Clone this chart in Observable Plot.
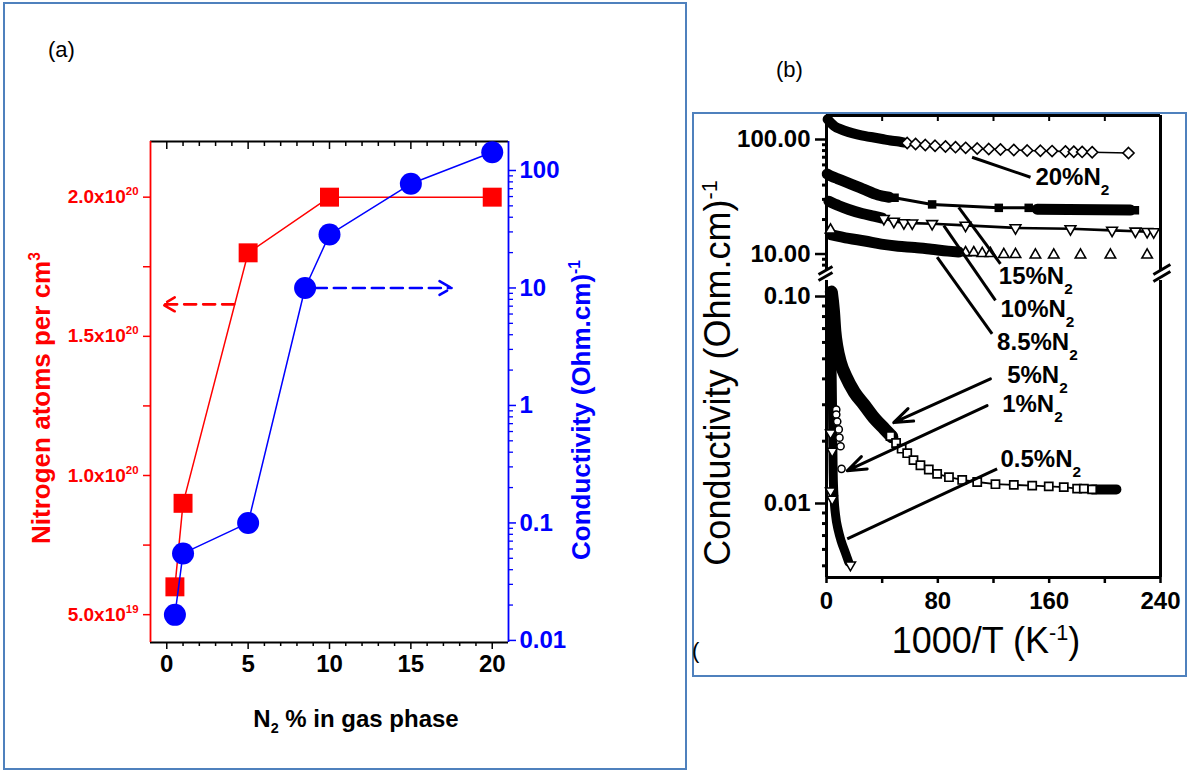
<!DOCTYPE html>
<html>
<head>
<meta charset="utf-8">
<script src="https://cdn.jsdelivr.net/npm/d3@7"></script>
<script src="https://cdn.jsdelivr.net/npm/@observablehq/plot@0.6"></script>
<style>
  html, body { margin: 0; padding: 0; background: #fff; }
  #page { position: relative; width: 1188px; height: 772px; overflow: hidden; background: #fff;
          font-family: "Liberation Sans", Arial, Helvetica, sans-serif; }
  .box { position: absolute; border: 2.5px solid #4f81bd; box-sizing: border-box; }
  .layer { position: absolute; left: 0; top: 0; }
  .t { position: absolute; white-space: nowrap; line-height: 1; }
  .rot { transform: translate(-50%, -50%) rotate(-90deg); }
  .ctr { transform: translate(-50%, -50%); }
  sup, sub { font-size: 0.6em; line-height: 0; }
</style>
</head>
<body>
<div id="page">
  <div class="box" style="left:3px;top:2px;width:684px;height:768px"></div>
  <div class="box" style="left:692px;top:112px;width:495px;height:565px"></div>
</div>
<script>
// ================= DATA =================
// ---- Panel (a)
const n2Pct        = [0.5, 1, 5, 10, 20];
const nAtoms       = [0.6e20, 0.9e20, 1.8e20, 2.0e20, 2.0e20];
const n2PctCond    = [0.5, 1, 5, 8.5, 10, 15, 20];
const condA        = [0.0165, 0.055, 0.1, 10, 28.5, 77, 143];
const xTicksA      = [0, 5, 10, 15, 20];
const xMinorA      = [1, 2, 3, 4, 6, 7, 8, 9, 11, 12, 13, 14, 16, 17, 18, 19];
const nTicksA      = [0.5e20, 1.0e20, 1.5e20, 2.0e20];
const nTickLabelsA = ["5.0x10^{19}", "1.0x10^{20}", "1.5x10^{20}", "2.0x10^{20}"];
const nMinorA      = [0.75e20, 1.25e20, 1.75e20];
const condTicksA   = [0.01, 0.1, 1, 10, 100];
const condLabelsA  = ["0.01", "0.1", "1", "10", "100"];

// ---- Panel (b)
// 20 % N2 (open diamonds)
const s20BandX = [0.8, 3, 6, 10, 16, 22, 28, 34, 40, 46, 52, 56];
const s20BandV = [150, 140, 130, 123, 116, 111, 107, 104, 101, 98, 96, 94];
const s20X = [58, 64, 71, 78, 85.5, 92.7, 100, 108.3, 116.6, 125, 134.6, 144.2, 153.7, 162.1, 171.7, 177.7, 183.7, 190.9, 217];
const s20V = [93.2, 91.4, 89.5, 88.1, 86.9, 85.7, 84.6, 83.4, 82.6, 81.8, 81.0, 80.1, 79.7, 79.2, 78.6, 78.2, 77.9, 77.4, 76.2];
// 15 % N2 (filled squares)
const s15BandX  = [0.5, 4, 7.7, 15, 26, 37, 45];
const s15BandV  = [50, 47.5, 45.6, 42.1, 37.1, 32.8, 31.3];
const s15X      = [48.9, 75.9, 123.8, 145.3, 221.6];
const s15V      = [31.0, 27.1, 25.3, 25.3, 24.1];
const s15DenseX = [151.4, 218.4];
const s15DenseV = [24.6, 24.2];
// 10 % N2 (open down triangles)
const s10BandX = [1.7, 8.9, 16, 25.6, 34, 40];
const s10BandV = [28.9, 26.4, 24.5, 22.6, 21.4, 20.6];
const s10X = [41.2, 48.4, 55.6, 61.6, 75.9, 99.9, 135.8, 175.3, 205.2, 222, 230.4, 235.1];
const s10V = [20.4, 19.3, 18.7, 18.6, 18.4, 17.8, 16.9, 16.6, 16.1, 15.8, 15.7, 15.6];
// 8.5 % N2 (open up triangles)
const s85BandX = [2.9, 16, 27.5, 39.4, 51.4, 63.4, 75.4, 87.3, 95];
const s85BandV = [14.8, 13.7, 13.0, 12.2, 11.7, 11.4, 11.0, 10.6, 10.4];
const s85X = [2.9, 99.9, 105.8, 111.9, 117.8, 127.4, 135.8, 150.1, 163.3, 182.5, 204, 230.4];
const s85V = [16.2, 10.3, 10.3, 10.1, 10.1, 9.9, 9.9, 9.8, 9.8, 9.8, 9.8, 9.8];
// 5 % N2 (open squares)
const s5BandX  = [3.5, 5, 6, 7.5, 10, 14, 20, 27, 35, 42, 47];
const s5BandV  = [0.105, 0.085, 0.068, 0.057, 0.048, 0.041, 0.0345, 0.030, 0.0255, 0.0228, 0.021];
const s5X = [46, 50, 54, 58, 62.5, 67.5, 73.5, 79.5, 88, 97.5, 108.3, 121.4, 134.6, 147.8, 159.7, 170.5, 180.1, 184.9, 190.9];
const s5V = [0.0212, 0.0196, 0.0184, 0.0175, 0.0162, 0.0153, 0.0146, 0.0139, 0.0134, 0.0130, 0.0127, 0.0124, 0.0123, 0.0122, 0.0121, 0.0120, 0.0118, 0.0118, 0.0117];
const s5DenseX = [190.9, 208.3];
const s5DenseV = [0.0117, 0.0117];
// 1 % N2 (open circles)
const s1X = [7.0, 7.0, 7.7, 8.8, 9.3, 10.1, 10.8];
const s1V = [0.0284, 0.0269, 0.0249, 0.0228, 0.0208, 0.0189, 0.0147];
// 0.5 % N2 (down triangles)
const s05BandX = [3, 3.5, 4, 4.3, 4.5, 4.8, 5.5, 6.5, 8.5, 10.5, 13.5, 16];
const s05BandV = [0.10, 0.07, 0.045, 0.03, 0.02, 0.014, 0.0105, 0.0088, 0.0074, 0.0066, 0.0058, 0.0052];
const s05X = [2.9, 4.1, 2.9, 4.1, 17.2];
const s05V = [0.0219, 0.0179, 0.0115, 0.0105, 0.00505];

// axis ticks (b)
const xTicksB        = [0, 80, 160, 240];
const xMinorB        = [40, 120, 200];
const upperTicksB    = [10, 100];
const upperLabelsB   = ["10.00", "100.00"];
const upperMinorB    = [8, 9, 20, 30, 40, 50, 60, 70, 80, 90];
const lowerTicksB    = [0.01, 0.1];
const lowerLabelsB   = ["0.01", "0.10"];
const lowerMinorB    = [0.005, 0.006, 0.007, 0.008, 0.009, 0.02, 0.03, 0.04, 0.05, 0.06, 0.07, 0.08, 0.09];

// annotations (b)
const upperLabelText = ["20%N_{2}", "15%N_{2}"];
const upperLabelX    = [150.1, 123.8];
const upperLabelV    = [46.6, 6.36];
const lowerLabelText = ["10%N_{2}", "8.5%N_{2}", "5%N_{2}", "1%N_{2}", "0.5%N_{2}"];
const lowerLabelX    = [125, 122.6, 129.8, 126.2, 125];
const lowerLabelV    = [0.0866, 0.060, 0.0415, 0.0301, 0.0163];
const upperLeaders = [
  {x1: 104.6, y1: 70.0, x2: 146.6, y2: 46.8},
  {x1: 95.0,  y1: 25.6, x2: 125.0, y2: 8.21},
  {x1: 84.3,  y1: 17.7, x2: 121.4, y2: 3.94},
  {x1: 79.5,  y1: 9.38, x2: 119.0, y2: 2.01}
];
const lowerArrows = [
  {x1: 117.8, y1: 0.040,  x2: 48.3, y2: 0.0246},
  {x1: 115.4, y1: 0.0297, x2: 14.9, y2: 0.0144}
];
const lowerLeaders = [{x1: 122.6, y1: 0.0147, x2: 14.9, y2: 0.00675}];
const breakMarks = [
  {x1: -5.75, y1: 6.62, x2: 4.3, y2: 7.78},
  {x1: -5.75, y1: 5.87, x2: 4.3, y2: 6.89},
  {x1: 234.9, y1: 6.62, x2: 247.1, y2: 8.1},
  {x1: 234.9, y1: 5.75, x2: 247.1, y2: 7.03}
];

// ================= RENDER =================
const W = 1188, H = 772;
const RED = "#ff0000", BLUE = "#0000ff";
const FONT = "'Liberation Sans', Arial, Helvetica, sans-serif";
const page = document.getElementById("page");
const pts = (xs, vs) => xs.map((x, i) => ({x, v: vs[i]}));
const labMap = (ks, ls) => new Map(ks.map((k, i) => [k, ls[i]]));
const style = {background: "transparent", fontFamily: FONT, overflow: "visible"};
const blank = () => "";

function rich(root) {
  root.querySelectorAll("text").forEach(t => {
    const s = t.textContent;
    if (!/[\^_]\{/.test(s)) return;
    const fs = parseFloat(getComputedStyle(t).fontSize) || 16;
    while (t.firstChild) t.removeChild(t.firstChild);
    let shift = 0;
    const add = (str, kind) => {
      if (!str) return;
      const ts = document.createElementNS("http://www.w3.org/2000/svg", "tspan");
      const target = kind === "^" ? -0.42 * fs : kind === "_" ? 0.40 * fs : 0;
      const dy = target - shift; shift = target;
      if (dy) ts.setAttribute("dy", dy);
      if (kind) ts.setAttribute("font-size", (kind === "^" ? 0.6 : 0.64) * fs);
      ts.textContent = str;
      t.appendChild(ts);
    };
    const re = /([\^_])\{([^}]*)\}/g;
    let last = 0, m;
    while ((m = re.exec(s))) { add(s.slice(last, m.index), null); add(m[2], m[1]); last = re.lastIndex; }
    add(s.slice(last), null);
  });
}
function addLayer(svg) {
  svg.classList.add("layer");
  svg.style.position = "absolute"; svg.style.left = "0px"; svg.style.top = "0px";
  page.appendChild(svg);
  rich(svg);
}

// ---- Panel (a), left (linear, red)
const dataN = n2Pct.map((x, i) => ({x, y: nAtoms[i]}));
const nLab = labMap(nTicksA, nTickLabelsA);
addLayer(Plot.plot({
  width: W, height: H,
  marginLeft: 150, marginRight: W - 508, marginTop: 141, marginBottom: H - 642,
  style,
  x: {domain: [-1, 21]},
  y: {domain: [0.4e20, 2.2e20]},
  marks: [
    Plot.ruleY([0.4e20, 2.2e20], {stroke: "black", strokeWidth: 1.8}),
    Plot.ruleX([-1], {stroke: RED, strokeWidth: 1.8}),
    Plot.axisX({ticks: xTicksA, tickSize: 7, tickPadding: 5, strokeWidth: 1.5, fontSize: 24, fontWeight: "bold", color: "black", label: null, tickFormat: d => String(d)}),
    Plot.axisX({ticks: xMinorA, tickSize: 4, strokeWidth: 1.5, color: "black", label: null, tickFormat: blank}),
    Plot.axisX({anchor: "top", ticks: xTicksA, tickSize: -7, strokeWidth: 1.5, color: "black", label: null, tickFormat: blank}),
    Plot.axisX({anchor: "top", ticks: xMinorA, tickSize: -4, strokeWidth: 1.5, color: "black", label: null, tickFormat: blank}),
    Plot.axisY({ticks: nTicksA, tickSize: 7, tickPadding: 5, strokeWidth: 1.5, color: RED, fontSize: 19, fontWeight: "bold", label: null, tickFormat: d => nLab.get(d)}),
    Plot.axisY({ticks: nMinorA, tickSize: 7, strokeWidth: 1.5, color: RED, label: null, tickFormat: blank}),
    Plot.line(dataN, {x: "x", y: "y", stroke: RED, strokeWidth: 1.5}),
    Plot.arrow([{x1: 4.14, y1: 1.615e20, x2: -0.25, y2: 1.615e20}], {x1: "x1", y1: "y1", x2: "x2", y2: "y2", stroke: RED, strokeWidth: 2.6, strokeDasharray: "12,7", headLength: 8}),
    Plot.dot(dataN, {x: "x", y: "y", symbol: "square", r: 10.7, fill: RED, stroke: null})
  ]
}));

// ---- Panel (a), right (log, blue)
const dataC = n2PctCond.map((x, i) => ({x, y: condA[i]}));
const cLab = labMap(condTicksA, condLabelsA);
const condMinorA = condTicksA.flatMap(d => d3.range(2, 10).map(k => +(k * d).toPrecision(3))).filter(v => v < 176);
addLayer(Plot.plot({
  width: W, height: H,
  marginLeft: 150, marginRight: W - 508, marginTop: 141, marginBottom: H - 642,
  style,
  x: {domain: [-1, 21], axis: null},
  y: {type: "log", domain: [0.0096, 176.5]},
  marks: [
    Plot.ruleX([21], {stroke: BLUE, strokeWidth: 1.8}),
    Plot.axisY({anchor: "right", ticks: condTicksA, tickSize: 7, tickPadding: 4, strokeWidth: 1.5, color: BLUE, fontSize: 24, fontWeight: "bold", label: null, tickFormat: d => cLab.get(d)}),
    Plot.axisY({anchor: "right", ticks: condMinorA, tickSize: 4, strokeWidth: 1.3, color: BLUE, label: null, tickFormat: blank}),
    Plot.line(dataC, {x: "x", y: "y", stroke: BLUE, strokeWidth: 1.5}),
    Plot.arrow([{x1: 9.1, y1: 10, x2: 17.5, y2: 10}], {x1: "x1", y1: "y1", x2: "x2", y2: "y2", stroke: BLUE, strokeWidth: 2.6, strokeDasharray: "12,7", headLength: 8}),
    Plot.dot(dataC, {x: "x", y: "y", r: 11, fill: BLUE, stroke: null})
  ]
}));

// ---- Panel (b), upper segment
const uLab = labMap(upperTicksB, upperLabelsB);
const band = (d, w) => Plot.line(d, {x: "x", y: "v", stroke: "black", strokeWidth: w, strokeLinecap: "round", strokeLinejoin: "round", curve: "monotone-x"});
const upperLabels = upperLabelText.map((t, i) => ({t, x: upperLabelX[i], v: upperLabelV[i]}));
const lowerLabels = lowerLabelText.map((t, i) => ({t, x: lowerLabelX[i], v: lowerLabelV[i]}));
const linkOpts = {x1: "x1", y1: "y1", x2: "x2", y2: "y2", stroke: "black", strokeWidth: 3};

addLayer(Plot.plot({
  width: W, height: H,
  marginLeft: 826, marginRight: W - 1160, marginTop: 115, marginBottom: H - 270,
  style,
  x: {domain: [0, 240]},
  y: {type: "log", domain: [7.18, 162]},
  marks: [
    Plot.ruleY([162], {stroke: "black", strokeWidth: 3}),
    Plot.ruleX([0, 240], {stroke: "black", strokeWidth: 3}),
    Plot.axisY({ticks: upperTicksB, tickSize: 11, tickPadding: 5, strokeWidth: 2.5, color: "black", fontSize: 24, fontWeight: "bold", label: null, tickFormat: d => uLab.get(d)}),
    Plot.axisY({ticks: upperMinorB, tickSize: 4, strokeWidth: 3, color: "black", label: null, tickFormat: blank}),
    Plot.axisX({anchor: "top", ticks: xTicksB.concat(xMinorB), tickSize: -5, strokeWidth: 2, color: "black", label: null, tickFormat: blank}),
    // 20 %
    band(pts(s20BandX, s20BandV), 10),
    Plot.line(pts(s20X, s20V), {x: "x", y: "v", stroke: "black", strokeWidth: 1.6}),
    Plot.dot(pts(s20X, s20V), {x: "x", y: "v", symbol: "diamond2", r: 5, fill: "white", stroke: "black", strokeWidth: 1.6}),
    // 15 %
    band(pts(s15BandX, s15BandV), 11),
    Plot.line(pts(s15X, s15V), {x: "x", y: "v", stroke: "black", strokeWidth: 3}),
    band(pts(s15DenseX, s15DenseV), 11),
    Plot.dot(pts(s15X, s15V), {x: "x", y: "v", symbol: "square", r: 4.8, fill: "black", stroke: null}),
    // 10 %
    band(pts(s10BandX, s10BandV), 11),
    Plot.line(pts(s10X, s10V), {x: "x", y: "v", stroke: "black", strokeWidth: 2.6}),
    Plot.dot(pts(s10X, s10V), {x: "x", y: "v", symbol: "triangle", rotate: 180, r: 4, fill: "white", stroke: "black", strokeWidth: 1.6}),
    // 8.5 %
    band(pts(s85BandX, s85BandV), 11),
    Plot.dot(pts(s85X, s85V), {x: "x", y: "v", symbol: "triangle", r: 3.9, fill: "white", stroke: "black", strokeWidth: 1.6}),
    // leaders + labels
    Plot.link(upperLeaders, linkOpts),
    Plot.text(upperLabels, {x: "x", y: "v", text: "t", textAnchor: "start", fontSize: 24, fontWeight: "bold", fill: "black"}),
    Plot.link(breakMarks, linkOpts)
  ]
}));

// ---- Panel (b), lower segment
const lLab = labMap(lowerTicksB, lowerLabelsB);
addLayer(Plot.plot({
  width: W, height: H,
  marginLeft: 826, marginRight: W - 1160, marginTop: 280, marginBottom: H - 577,
  style,
  x: {domain: [0, 240]},
  y: {type: "log", domain: [0.00439, 0.1195]},
  marks: [
    Plot.ruleY([0.00439], {stroke: "black", strokeWidth: 3}),
    Plot.ruleX([0, 240], {stroke: "black", strokeWidth: 3}),
    Plot.axisY({ticks: lowerTicksB, tickSize: 11, tickPadding: 5, strokeWidth: 2.5, color: "black", fontSize: 24, fontWeight: "bold", label: null, tickFormat: d => lLab.get(d)}),
    Plot.axisY({ticks: lowerMinorB, tickSize: 4, strokeWidth: 3, color: "black", label: null, tickFormat: blank}),
    Plot.axisX({ticks: xTicksB, tickSize: 6, tickPadding: 8, strokeWidth: 2.5, color: "black", fontSize: 24, fontWeight: "bold", label: null, tickFormat: d => String(d)}),
    Plot.axisX({ticks: xMinorB, tickSize: 6, strokeWidth: 2.5, color: "black", label: null, tickFormat: blank}),
    // 5 %
    band(pts(s5BandX, s5BandV), 13),
    Plot.line(pts(s5X, s5V), {x: "x", y: "v", stroke: "black", strokeWidth: 1.8}),
    band(pts(s5DenseX, s5DenseV), 10),
    Plot.dot(pts(s5X, s5V), {x: "x", y: "v", symbol: "square", r: 4.6, fill: "white", stroke: "black", strokeWidth: 1.7}),
    // 0.5 %
    band(pts(s05BandX, s05BandV), 9),
    Plot.dot(pts(s05X, s05V), {x: "x", y: "v", symbol: "triangle", rotate: 180, r: 3.8, fill: "white", stroke: "black", strokeWidth: 1.5}),
    // 1 %
    Plot.dot(pts(s1X, s1V), {x: "x", y: "v", r: 3.6, fill: "white", stroke: "black", strokeWidth: 1.5}),
    // leaders + labels
    Plot.arrow(lowerArrows, {...linkOpts, headLength: 10, headAngle: 40}),
    Plot.link(lowerLeaders, linkOpts),
    Plot.text(lowerLabels, {x: "x", y: "v", text: "t", textAnchor: "start", fontSize: 24, fontWeight: "bold", fill: "black"})
  ]
}));

// ---- Titles (HTML text)
const texts = [
  {html: "(a)", css: "left:48px;top:39px;font-size:22px;"},
  {html: "(b)", css: "left:776px;top:59px;font-size:22px;"},
  {html: "(", css: "left:692px;top:640px;font-size:22px;"},
  {html: "Nitrogen atoms per cm<sup>3</sup>", cls: "rot", css: "left:41px;top:398px;font-size:26px;font-weight:bold;color:" + RED},
  {html: "Conductivity (Ohm.cm)<sup>-1</sup>", cls: "rot", css: "left:581px;top:410px;font-size:26px;font-weight:bold;color:" + BLUE},
  {html: "N<sub>2</sub> % in gas phase", cls: "ctr", css: "left:356px;top:719px;font-size:24px;font-weight:bold;"},
  {html: "Conductivity (Ohm.cm)<sup>-1</sup>", cls: "rot", css: "left:718px;top:373px;font-size:36px;"},
  {html: "1000/T (K<sup>-1</sup>)", cls: "ctr", css: "left:986px;top:641px;font-size:36px;"}
];
texts.forEach(t => {
  const d = document.createElement("div");
  d.className = "t " + (t.cls || "");
  d.style.cssText += t.css;
  d.innerHTML = t.html;
  page.appendChild(d);
});
</script>
</body>
</html>
